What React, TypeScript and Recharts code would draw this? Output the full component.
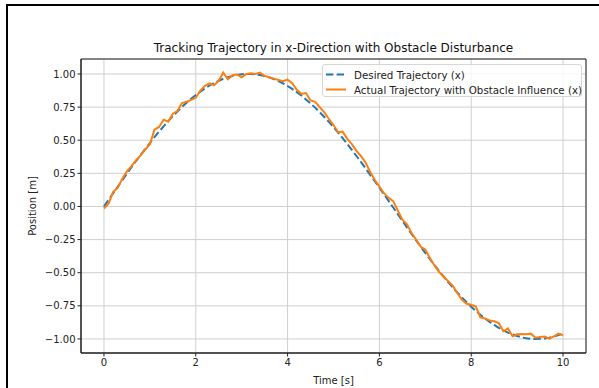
import {
  LineChart,
  Line,
  XAxis,
  YAxis,
  CartesianGrid,
  Legend,
  ReferenceArea,
} from "recharts";

const time = [
  0.0, 0.1, 0.2, 0.3, 0.4, 0.5, 0.6, 0.7, 0.8, 0.9,
  1.0, 1.1, 1.2, 1.3, 1.4, 1.5, 1.6, 1.7, 1.8, 1.9,
  2.0, 2.1, 2.2, 2.3, 2.4, 2.5, 2.6, 2.7, 2.8, 2.9,
  3.0, 3.1, 3.2, 3.3, 3.4, 3.5, 3.6, 3.7, 3.8, 3.9,
  4.0, 4.1, 4.2, 4.3, 4.4, 4.5, 4.6, 4.7, 4.8, 4.9,
  5.0, 5.1, 5.2, 5.3, 5.4, 5.5, 5.6, 5.7, 5.8, 5.9,
  6.0, 6.1, 6.2, 6.3, 6.4, 6.5, 6.6, 6.7, 6.8, 6.9,
  7.0, 7.1, 7.2, 7.3, 7.4, 7.5, 7.6, 7.7, 7.8, 7.9,
  8.0, 8.1, 8.2, 8.3, 8.4, 8.5, 8.6, 8.7, 8.8, 8.9,
  9.0, 9.1, 9.2, 9.3, 9.4, 9.5, 9.6, 9.7, 9.8, 9.9,
  10.0,
];

const desiredX = [
  0.0, 0.05, 0.1, 0.149, 0.199, 0.247, 0.296, 0.343, 0.389, 0.435,
  0.479, 0.523, 0.565, 0.605, 0.644, 0.682, 0.717, 0.751, 0.783, 0.813,
  0.841, 0.867, 0.891, 0.913, 0.932, 0.949, 0.964, 0.976, 0.985, 0.993,
  0.997, 1.0, 1.0, 0.997, 0.992, 0.984, 0.974, 0.961, 0.946, 0.929,
  0.909, 0.887, 0.863, 0.837, 0.808, 0.778, 0.746, 0.711, 0.675, 0.638,
  0.598, 0.558, 0.516, 0.472, 0.427, 0.381, 0.335, 0.287, 0.239, 0.19,
  0.141, 0.091, 0.042, -0.008, -0.058, -0.108, -0.158, -0.207, -0.256, -0.304,
  -0.351, -0.397, -0.443, -0.487, -0.53, -0.572, -0.612, -0.651, -0.688, -0.723,
  -0.757, -0.788, -0.818, -0.845, -0.871, -0.894, -0.916, -0.935, -0.952, -0.966,
  -0.978, -0.988, -0.995, -0.999, -1.0, -0.999, -0.996, -0.99, -0.982, -0.971,
  -0.959,
];

const actualX = [
  -0.015, 0.02, 0.11, 0.14, 0.21, 0.265, 0.305, 0.35, 0.385, 0.43,
  0.47, 0.58, 0.6, 0.655, 0.64, 0.7, 0.72, 0.78, 0.79, 0.805,
  0.82, 0.875, 0.91, 0.93, 0.915, 0.95, 1.01, 0.96, 0.99, 0.995,
  0.975, 1.0, 1.005, 1.0, 1.01, 0.985, 0.975, 0.965, 0.955, 0.945,
  0.957, 0.93, 0.88, 0.85, 0.856, 0.8, 0.79, 0.75, 0.71, 0.66,
  0.615, 0.56, 0.565, 0.51, 0.47, 0.42, 0.38, 0.33, 0.26, 0.2,
  0.15, 0.1, 0.065, 0.04, -0.03, -0.1, -0.135, -0.2, -0.25, -0.305,
  -0.325, -0.39, -0.445, -0.495, -0.53, -0.565, -0.6, -0.655, -0.705, -0.735,
  -0.742, -0.755, -0.838, -0.846, -0.86, -0.866, -0.88, -0.942, -0.921, -0.98,
  -0.965, -0.962, -0.965, -0.96, -0.99, -0.985, -0.982, -0.997, -0.98, -0.96,
  -0.972,
];

const xTicks = [0, 2, 4, 6, 8, 10];
const yTicks = [-1, -0.75, -0.5, -0.25, 0, 0.25, 0.5, 0.75, 1];

const seriesNames = {
  desired: "Desired Trajectory (x)",
  actual: "Actual Trajectory with Obstacle Influence (x)",
};

const data = time.map((t, i) => ({
  t,
  desired: desiredX[i],
  actual: actualX[i],
}));

const FONT = '"DejaVu Sans", Verdana, sans-serif';
const BLUE = "#1f77b4";
const ORANGE = "#ff7f0e";

const formatY = (v: number) => {
  const s = Math.abs(v).toFixed(2);
  return v < 0 ? "\u2212" + s : s;
};

const formatX = (v: number) => (v < 0 ? "\u2212" + Math.abs(v) : String(v));

const LegendBox = () => (
  <div
    style={{
      width: 260,
      height: 33,
      border: "1px solid #d6d6d6",
      borderRadius: 3,
      background: "rgba(255,255,255,0.8)",
      fontFamily: FONT,
      fontSize: 10.3,
      color: "#222",
      boxSizing: "border-box",
      paddingTop: 2,
    }}
  >
    {[
      { name: seriesNames.desired, color: BLUE, dash: "7.4 3.2" },
      { name: seriesNames.actual, color: ORANGE, dash: undefined },
    ].map((item) => (
      <div key={item.name} style={{ display: "flex", alignItems: "center", height: 15 }}>
        <svg width={30} height={15} style={{ flex: "none" }}>
          <line
            x1={3}
            x2={23}
            y1={7.5}
            y2={7.5}
            stroke={item.color}
            strokeWidth={2}
            strokeDasharray={item.dash}
          />
        </svg>
        <span style={{ marginLeft: 1, whiteSpace: "nowrap" }}>{item.name}</span>
      </div>
    ))}
  </div>
);

export default function App() {
  return (
    <div
      style={{
        position: "fixed",
        left: 0,
        top: 0,
        width: 599,
        height: 388,
        background: "#fff",
        overflow: "hidden",
      }}
    >
      <div
        style={{
          position: "absolute",
          left: 6,
          top: 4,
          right: 0,
          bottom: 0,
          borderTop: "2px solid #000",
          borderLeft: "2px solid #000",
        }}
      />
      <div
        style={{
          position: "absolute",
          left: 81,
          width: 505,
          top: 41,
          lineHeight: "14px",
          textAlign: "center",
          fontFamily: FONT,
          fontSize: 12,
          color: "#111",
        }}
      >
        Tracking Trajectory in x-Direction with Obstacle Disturbance
      </div>
      <LineChart
        width={599}
        height={388}
        data={data}
        margin={{ top: 59, right: 13, bottom: 0, left: 0 }}
        style={{ fontFamily: FONT }}
      >
        <CartesianGrid stroke="#cfcfcf" strokeWidth={1} />
        <XAxis
          dataKey="t"
          type="number"
          domain={[-0.5, 10.5]}
          ticks={xTicks}
          tickFormatter={formatX}
          allowDataOverflow
          height={35}
          tickSize={3.5}
          stroke="#222"
          tick={{ fill: "#222", fontSize: 10 }}
          label={{
            value: "Time [s]",
            position: "insideBottom",
            offset: 4,
            fill: "#222",
            fontSize: 10,
          }}
        />
        <YAxis
          type="number"
          domain={[-1.106, 1.113]}
          ticks={yTicks}
          tickFormatter={formatY}
          allowDataOverflow
          width={81}
          tickSize={3.5}
          stroke="#222"
          tick={{ fill: "#222", fontSize: 10 }}
          label={{
            value: "Position [m]",
            angle: -90,
            position: "insideLeft",
            offset: 32,
            fill: "#222",
            fontSize: 10,
            style: { textAnchor: "middle" },
          }}
        />
        <Line
          type="linear"
          dataKey="desired"
          name={seriesNames.desired}
          stroke={BLUE}
          strokeWidth={2}
          strokeDasharray="7.4 3.2"
          dot={false}
          activeDot={false}
          isAnimationActive={false}
        />
        <Line
          type="linear"
          dataKey="actual"
          name={seriesNames.actual}
          stroke={ORANGE}
          strokeWidth={2}
          dot={false}
          activeDot={false}
          isAnimationActive={false}
        />
        <ReferenceArea
          x1={-0.5}
          x2={10.5}
          y1={-1.106}
          y2={1.113}
          fill="none"
          stroke="#222"
          strokeWidth={1}
          ifOverflow="visible"
        />
        <Legend
          layout="horizontal"
          verticalAlign="middle"
          align="center"
          content={() => <LegendBox />}
          wrapperStyle={{ position: "absolute", left: 322, top: 64, width: 260, height: 34 }}
        />
      </LineChart>
    </div>
  );
}
